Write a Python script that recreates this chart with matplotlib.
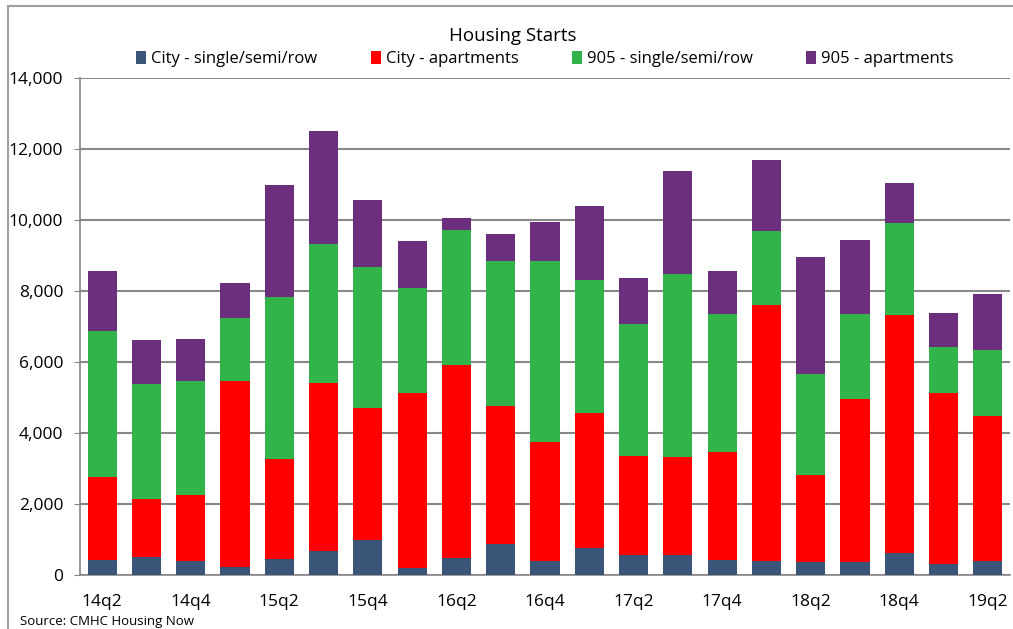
import matplotlib
matplotlib.use("Agg")
import matplotlib.pyplot as plt
from matplotlib.lines import Line2D
import numpy as np

quarters = ["14q2", "14q3", "14q4", "15q1", "15q2", "15q3", "15q4", "16q1", "16q2", "16q3",
            "16q4", "17q1", "17q2", "17q3", "17q4", "18q1", "18q2", "18q3", "18q4", "19q1", "19q2"]
city_single = [430, 510, 390, 220, 450, 680, 990, 200, 490, 880, 390, 770, 550, 550, 420, 390, 380, 380, 620, 320, 390]
city_apts = [2330, 1630, 1850, 5240, 2820, 4730, 3720, 4930, 5430, 3880, 3360, 3780, 2800, 2760, 3050, 7210, 2440, 4580, 6700, 4810, 4090]
s905_single = [4110, 3250, 3230, 1790, 4560, 3920, 3970, 2960, 3800, 4080, 5100, 3760, 3720, 5170, 3880, 2090, 2850, 2390, 2590, 1300, 1860]
s905_apts = [1690, 1230, 1180, 980, 3160, 3180, 1890, 1320, 340, 760, 1100, 2080, 1300, 2900, 1210, 2000, 3290, 2090, 1130, 960, 1580]

series_names = ["City - single/semi/row", "City - apartments", "905 - single/semi/row", "905 - apartments"]
colors = ["#3B5578", "#FF0000", "#33B44A", "#6C2F7E"]
yticks = [0, 2000, 4000, 6000, 8000, 10000, 12000, 14000]

plt.rcParams['font.family'] = ['Open Sans', 'DejaVu Sans']

W, H = 1013, 629
fig = plt.figure(figsize=(W / 100, H / 100), dpi=100)
ax = fig.add_axes([80 / W, 1 - 575 / H, (1010 - 80) / W, (575 - 78) / H])

x = np.arange(len(quarters))
bottom = np.zeros(len(quarters))
for vals, col, name in zip([city_single, city_apts, s905_single, s905_apts], colors, series_names):
    ax.bar(x, vals, width=0.655, bottom=bottom, color=col, label=name, zorder=3)
    bottom += np.array(vals)

ax.set_xlim(-0.5, len(quarters) - 0.5)
ax.set_ylim(0, 14000)
ax.set_yticks(yticks)
ax.set_yticklabels([f"{v:,}" for v in yticks], fontsize=12.5)
ax.set_xticks(x[::2])
ax.set_xticklabels(quarters[::2], fontsize=12.5)
ax.tick_params(axis='x', length=0, pad=14)
ax.tick_params(axis='y', length=4, color="#888888", pad=8)
ax.grid(axis='y', color="#888888", linewidth=1.5, zorder=0)
for s in ["top", "right"]:
    ax.spines[s].set_visible(False)
for s in ["left", "bottom"]:
    ax.spines[s].set_color("#888888")
    ax.spines[s].set_linewidth(1.2)

fig.text(513 / W, 1 - 36 / H, "Housing Starts", ha='center', va='center', fontsize=13.5)

leg = fig.legend(loc='center', bbox_to_anchor=(545 / W, 1 - 59 / H), ncol=4, frameon=False,
                 fontsize=12, handlelength=0.6, handleheight=0.8, handletextpad=0.3,
                 columnspacing=3.2)

fig.text(20 / W, 1 - 621 / H, "Source: CMHC Housing Now", ha='left', va='center', fontsize=9.5)

# chart border
fig.add_artist(Line2D([8 / W, 8 / W], [0, 1 - 6 / H], transform=fig.transFigure, color="#A0A0A0", linewidth=1.5))
fig.add_artist(Line2D([8 / W, 1], [1 - 6 / H, 1 - 6 / H], transform=fig.transFigure, color="#A0A0A0", linewidth=1.5))

fig.savefig("out.png", dpi=100)
